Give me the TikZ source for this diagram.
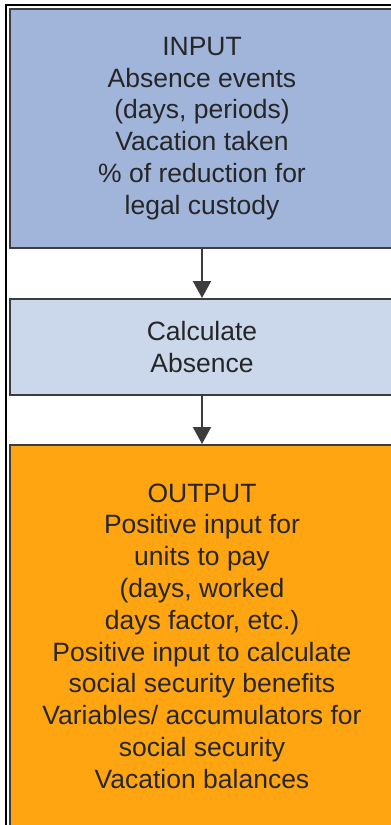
\documentclass[tikz,border=0pt]{standalone}
\usepackage{fontspec}
\setmainfont{Liberation Sans}
\usetikzlibrary{arrows.meta,positioning}
\definecolor{inputblue}{RGB}{161,180,218}
\definecolor{calcblue}{RGB}{203,216,235}
\definecolor{outorange}{RGB}{255,165,17}
\definecolor{boxline}{RGB}{60,60,60}

\begin{document}
\begin{tikzpicture}[x=1pt,y=-1pt,node distance=49pt,>={Triangle[length=17pt,width=18pt]},
  box/.style={draw=boxline,line width=2pt,align=center,minimum width=384pt,inner sep=0pt,text=black!85,font=\fontsize{26.5}{31.8}\selectfont},
  arr/.style={->,line width=2pt,draw=boxline,fill=boxline}]
\useasboundingbox (0,0) rectangle (391,825);
\clip (0,0) rectangle (391,825);
\draw[line width=1.5pt] (6,5) rectangle (420,850);
\node[box,fill=inputblue,minimum height=239pt] (input) at (202,128.5) {INPUT\\Absence events\\(days, periods)\\Vacation taken\\\% of reduction for\\legal custody};
\node[box,fill=calcblue,minimum height=96pt,below=of input] (calc) {Calculate\\Absence};
\node[box,fill=outorange,minimum height=382pt,below=48pt of calc] (output) {OUTPUT\\Positive input for\\units to pay\\(days, worked\\days factor, etc.)\\Positive input to calculate\\social security benefits\\Variables/ accumulators for\\social security\\Vacation balances};
\draw[arr] (input)--(calc);
\draw[arr] (calc)--(output);
\end{tikzpicture}
\end{document}
